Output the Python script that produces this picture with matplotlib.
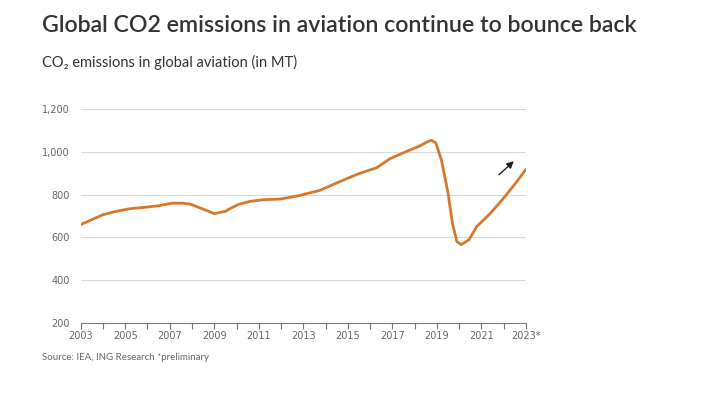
import matplotlib
matplotlib.use("Agg")
import matplotlib.pyplot as plt

# =====================
# data
# =====================
YEARS = [2003.0, 2003.5, 2004.0, 2004.5, 2005.2, 2006.0, 2006.5, 2007.1,
         2007.6, 2007.95, 2008.45, 2009.0, 2009.5, 2009.75, 2010.1, 2010.6,
         2011.2, 2011.95, 2012.7, 2013.75, 2014.6, 2015.5, 2016.3, 2016.9,
         2017.6, 2018.2, 2018.6, 2018.75, 2018.95, 2019.2, 2019.5, 2019.7,
         2019.9, 2020.1, 2020.45, 2020.8, 2021.35, 2021.95, 2022.55, 2023.0]
CO2_MT = [660, 683, 706, 720, 734, 742, 748, 760,
          760, 755, 734, 711, 722, 737, 755, 768,
          776, 779, 793, 820, 859, 898, 926, 968,
          1000, 1026, 1048, 1054, 1042, 964, 808, 667,
          581, 566, 590, 652, 707, 777, 855, 918]

TICK_YEARS = list(range(2003, 2024))
LABEL_YEARS = list(range(2003, 2024, 2))
LABELS = [str(y) for y in LABEL_YEARS[:-1]] + ["2023*"]
Y_TICKS = [200, 400, 600, 800, 1000, 1200]

TITLE = "Global CO2 emissions in aviation continue to bounce back"
SUBTITLE = "CO\u2082 emissions in global aviation (in MT)"
SOURCE = "Source: IEA, ING Research *preliminary"

LINE_COLOR = "#D6782C"
TEXT_COLOR = "#333333"
GREY = "#666666"

# =====================
# figure
# =====================
fig = plt.figure(figsize=(7.04, 3.98), dpi=100)
ax = fig.add_axes([0.1146, 0.1884, 0.6324, 0.5377])

ax.plot(YEARS, CO2_MT, color=LINE_COLOR, lw=2.0,
        solid_joinstyle="round", solid_capstyle="round")

ax.annotate("", xy=(2022.55, 965), xytext=(2021.7, 884),
            arrowprops=dict(arrowstyle="-|>", color="#222222", lw=1.0,
                            mutation_scale=10))

ax.set_xlim(2003, 2023)
ax.set_ylim(200, 1200)

ax.set_yticks(Y_TICKS)
ax.set_yticklabels([f"{v:,}" for v in Y_TICKS])
ax.set_xticks(TICK_YEARS, minor=True)
ax.set_xticks(LABEL_YEARS)
ax.set_xticklabels(LABELS)

for v in Y_TICKS[1:]:
    ax.axhline(v, color="#d9d9d9", lw=0.8, zorder=0)

for side in ["top", "right", "left"]:
    ax.spines[side].set_visible(False)
ax.spines["bottom"].set_color("#777777")
ax.spines["bottom"].set_linewidth(0.8)

ax.tick_params(axis="y", length=0, labelsize=7, colors=GREY, pad=8)
ax.tick_params(axis="x", which="both", direction="out", length=4,
               width=0.8, color="#777777", labelsize=7, labelcolor=GREY, pad=2)
for lab in ax.get_xticklabels() + ax.get_yticklabels():
    lab.set_family("DejaVu Sans")

fig.text(0.059, 0.935, TITLE, fontsize=16.7, color=TEXT_COLOR, weight="semibold",
         family=["Lato", "DejaVu Sans"], va="center", ha="left")
fig.text(0.059, 0.843, SUBTITLE, fontsize=10.5, color=TEXT_COLOR,
         family=["Lato", "DejaVu Sans"], va="center", ha="left")
fig.text(0.059, 0.103, SOURCE, fontsize=7, color=GREY,
         family=["Lato", "DejaVu Sans"], va="center", ha="left")

plt.savefig("out.png", dpi=100)
plt.close()
